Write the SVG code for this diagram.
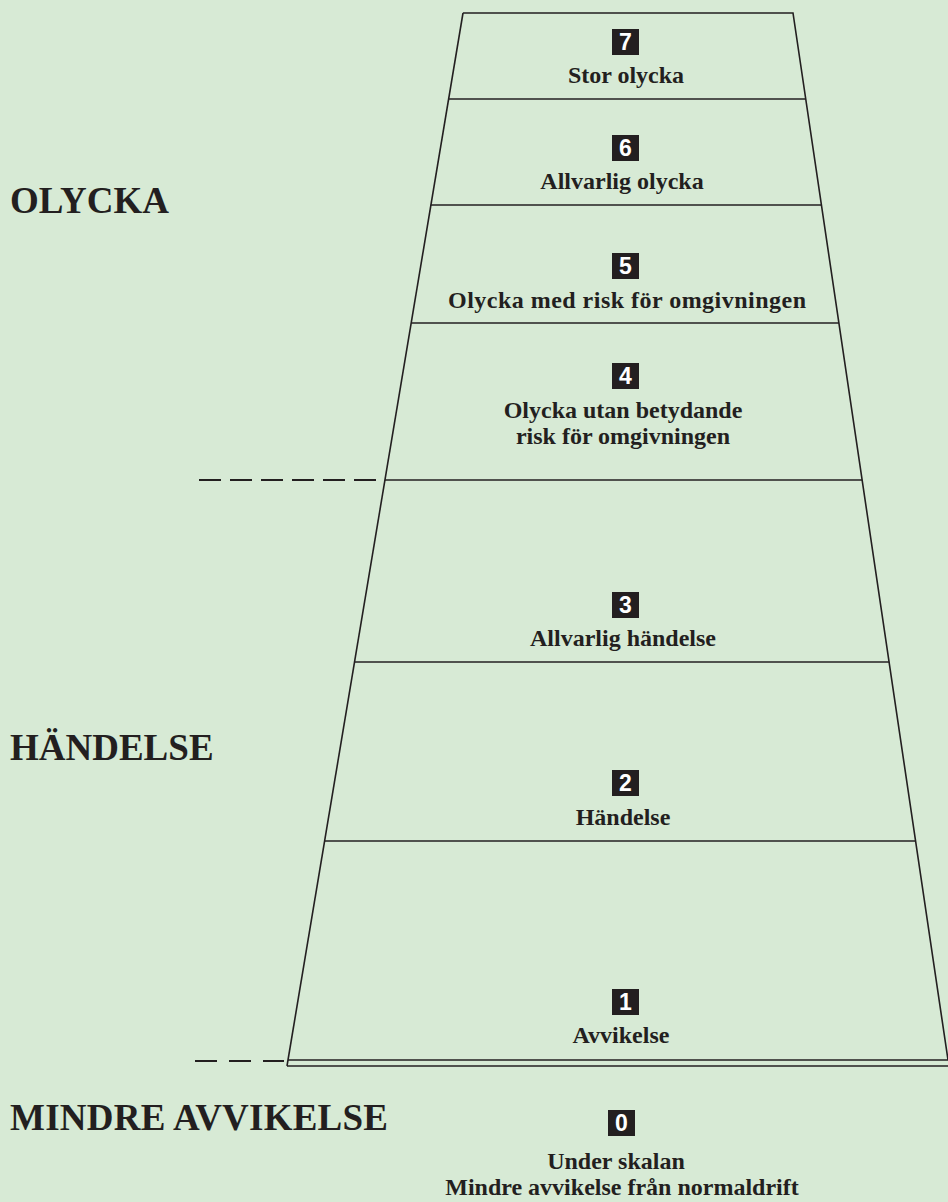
<svg xmlns="http://www.w3.org/2000/svg" width="948" height="1202" viewBox="0 0 948 1202">
<style>
.ln{stroke:#231f20;stroke-width:1.6;fill:none}
.dash{stroke:#231f20;stroke-width:2;fill:none;stroke-dasharray:22 9}
.lab{font-family:"Liberation Serif","Times New Roman",serif;font-weight:bold;font-size:37px;fill:#231f20}
.t{font-family:"Liberation Serif","Times New Roman",serif;font-weight:bold;font-size:24px;fill:#231f20;text-anchor:middle}
.nb{fill:#231f20}
.nt{font-family:"Liberation Sans",Arial,sans-serif;font-weight:bold;font-size:23px;fill:#ffffff;text-anchor:middle}
</style>
<rect width="948" height="1202" fill="#d7ead5"/>
<g id="connectors">
<polyline class="ln" points="463,13 793,13 948,1060"/>
<line class="ln" x1="463" y1="13" x2="287" y2="1066"/>
<line class="ln" x1="448.6" y1="99" x2="805.7" y2="99"/>
<line class="ln" x1="430.9" y1="205" x2="821.4" y2="205"/>
<line class="ln" x1="411.2" y1="323" x2="838.9" y2="323"/>
<line class="ln" x1="384.9" y1="480" x2="862.1" y2="480"/>
<line class="ln" x1="354.5" y1="662" x2="889.1" y2="662"/>
<line class="ln" x1="324.6" y1="841" x2="915.6" y2="841"/>
<line class="ln" x1="288" y1="1060" x2="948" y2="1060"/>
<line class="ln" x1="287" y1="1066" x2="948" y2="1066"/>
<line class="dash" x1="199" y1="480" x2="378" y2="480"/>
<line class="dash" x1="195" y1="1061" x2="284" y2="1061" style="stroke-dasharray:22 12"/>
</g>
<g id="labels">
<text class="lab" x="10" y="213">OLYCKA</text>
<text class="lab" x="10" y="760">HÄNDELSE</text>
<text class="lab" x="10" y="1130" textLength="378">MINDRE AVVIKELSE</text>
</g>
<g id="level7"><rect class="nb" x="612" y="29" width="27" height="26"/><text class="nt" x="625.5" y="50">7</text><text class="t" x="626" y="83">Stor olycka</text></g>
<g id="level6"><rect class="nb" x="612" y="135" width="27" height="26"/><text class="nt" x="625.5" y="156">6</text><text class="t" x="622" y="189">Allvarlig olycka</text></g>
<g id="level5"><rect class="nb" x="612" y="253" width="27" height="26"/><text class="nt" x="625.5" y="274">5</text><text class="t" x="627" y="308" textLength="358">Olycka med risk för omgivningen</text></g>
<g id="level4"><rect class="nb" x="612" y="363" width="27" height="26"/><text class="nt" x="625.5" y="384">4</text><text class="t" x="623" y="418">Olycka utan betydande</text><text class="t" x="623" y="444">risk för omgivningen</text></g>
<g id="level3"><rect class="nb" x="612" y="592" width="27" height="26"/><text class="nt" x="625.5" y="613">3</text><text class="t" x="623" y="646">Allvarlig händelse</text></g>
<g id="level2"><rect class="nb" x="612" y="770" width="27" height="26"/><text class="nt" x="625.5" y="791">2</text><text class="t" x="623" y="825">Händelse</text></g>
<g id="level1"><rect class="nb" x="612" y="989" width="27" height="26"/><text class="nt" x="625.5" y="1010">1</text><text class="t" x="621" y="1043">Avvikelse</text></g>
<g id="level0"><rect class="nb" x="608" y="1110" width="27" height="26"/><text class="nt" x="621.5" y="1131">0</text><text class="t" x="616" y="1169">Under skalan</text><text class="t" x="622" y="1195">Mindre avvikelse från normaldrift</text></g>
</svg>
